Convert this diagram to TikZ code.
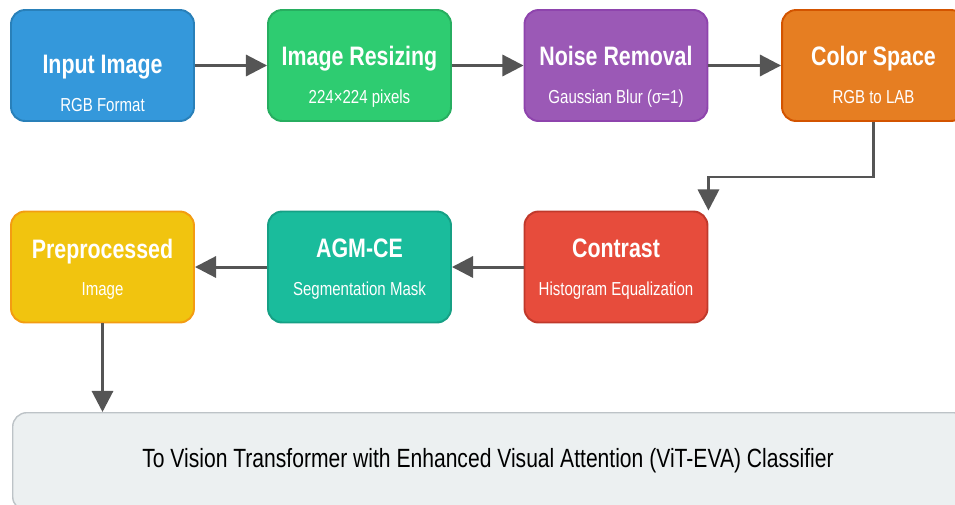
\documentclass[tikz,border=0pt]{standalone}
\usepackage{fontspec}
\setmainfont{Liberation Sans}[FakeStretch=0.8]
\usepackage{xcolor}
\usepackage{tikz}
\usetikzlibrary{arrows.meta, positioning}

\definecolor{cblue}{HTML}{3498DB}   \definecolor{dblue}{HTML}{2980B9}
\definecolor{cgreen}{HTML}{2ECC71}  \definecolor{dgreen}{HTML}{27AE60}
\definecolor{cpurple}{HTML}{9B59B6} \definecolor{dpurple}{HTML}{8E44AD}
\definecolor{corange}{HTML}{E67E22} \definecolor{dorange}{HTML}{D35400}
\definecolor{cred}{HTML}{E74C3C}    \definecolor{dred}{HTML}{C0392B}
\definecolor{cyellow}{HTML}{F1C40F} \definecolor{dyellow}{HTML}{F39C12}
\definecolor{cteal}{HTML}{1ABC9C}   \definecolor{dteal}{HTML}{16A085}
\definecolor{cgrey}{HTML}{ECF0F1}   \definecolor{dgrey}{HTML}{BDC3C7}
\definecolor{arrowgrey}{HTML}{555555}

% titolo e sottotitolo di un blocco, abbassati di #1
\newcommand{\stagetext}[3][0pt]{\raisebox{-#1}[\height][\depth]{%
  \begin{tabular}{@{}c@{}}
    {\fontsize{15.2}{18}\selectfont\bfseries #2}\\[9.3pt]
    {\fontsize{10.7}{13}\selectfont #3}
  \end{tabular}}}

\begin{document}
\begin{tikzpicture}[x=0.02cm,y=-0.02cm,>={Triangle[length=12pt,width=12pt]}]

% stili dei blocchi
\tikzset{
  stage/.style={rounded corners=8pt, line width=1.1pt, minimum width=3.66cm,
    minimum height=2.22cm, align=center, text=white, inner sep=0pt},
  flow/.style={->, draw=arrowgrey, line width=1.7pt},
}

\useasboundingbox (0,0) rectangle (955,504);
\clip (0,0) rectangle (955,504);

% --- Prima riga ---
\node[stage, fill=cblue, draw=dblue] (input) at (102.5,65.5) {\stagetext[12pt]{Input Image}{RGB Format}};
\node[stage, fill=cgreen, draw=dgreen] (resize) at (359.5,65.5) {\stagetext[7pt]{Image Resizing}{224×224 pixels}};
\node[stage, fill=cpurple, draw=dpurple] (noise) at (616,65.5) {\stagetext[7pt]{Noise Removal}{Gaussian Blur (σ=1)}};
\node[stage, fill=corange, draw=dorange] (cspace) at (873.5,65.5) {\stagetext[7pt]{Color Space}{RGB to LAB}};

% --- Seconda riga ---
\node[stage, fill=cred, draw=dred] (contrast) at (616,267) {\stagetext[2pt]{Contrast}{Histogram Equalization}};
\node[stage, fill=cteal, draw=dteal] (agm) at (359.5,267) {\stagetext[2pt]{AGM-CE}{Segmentation Mask}};
\node[stage, fill=cyellow, draw=dyellow] (prep) at (102.5,267) {\stagetext[2pt]{Preprocessed}{Image}};

% Classificatore finale
\node[rounded corners=8pt, line width=0.8pt, fill=cgrey, draw=dgrey,
  minimum width=19.1cm, minimum height=1.96cm, anchor=north west] (vit) at (12,412) {};
\node (vittext) at (488,461) {\fontsize{15}{18}\selectfont To Vision Transformer with Enhanced Visual Attention (ViT-EVA) Classifier};

% Frecce
\draw[flow] (input) -- (resize);
\draw[flow] (resize) -- (noise);
\draw[flow] (noise) -- (cspace);
\coordinate (bend) at (873.5,177);
\draw[flow] (cspace.south) -- (bend) -| (contrast.north east);
\draw[flow] (contrast) -- (agm);
\draw[flow] (agm) -- (prep);
\draw[flow] (prep.south) -- (prep.south |- vit.north);
\end{tikzpicture}
\end{document}
